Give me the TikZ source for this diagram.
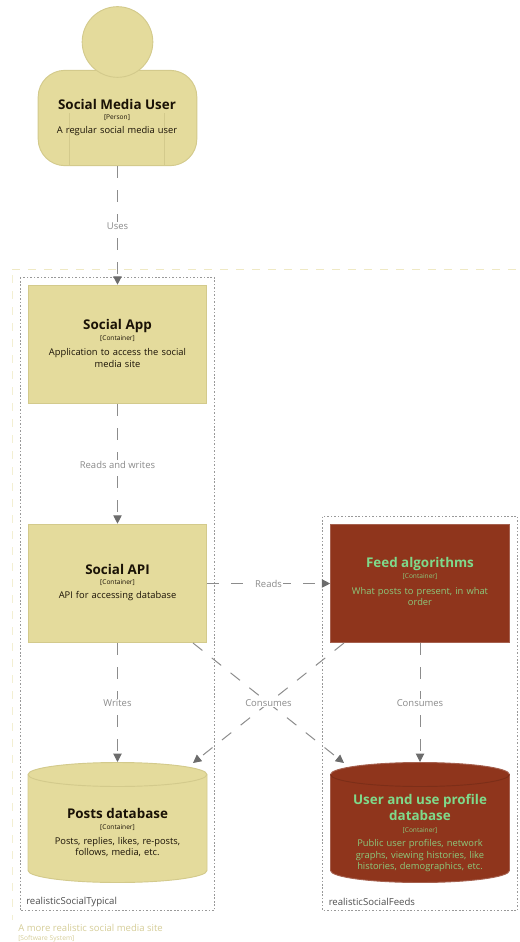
\documentclass[tikz,border=0pt]{standalone}
\usepackage{fontspec}
\setmainfont{Open Sans}
\usetikzlibrary{arrows.meta}
\definecolor{sand}{HTML}{E4DB9C}
\definecolor{sandline}{HTML}{D3CA8C}
\definecolor{rust}{HTML}{8F351C}
\definecolor{rustline}{HTML}{A5604E}
\definecolor{rustinner}{HTML}{7C2E18}
\definecolor{mint}{HTML}{7FD98A}
\definecolor{mintsoft}{HTML}{8CC97C}
\definecolor{inkdark}{HTML}{1A1206}
\definecolor{edgegray}{HTML}{6C6C6C}
\definecolor{edgeline}{HTML}{8C8C8C}
\definecolor{edgetext}{HTML}{8A8A8A}
\tikzset{
  x=0.75pt,y=-0.75pt,
  boxshape/.style={draw=sandline,fill=sand,line width=0.7pt,minimum width=134pt,minimum height=89pt,inner sep=0pt},
  rustbox/.style={draw=rustline,fill=rust,line width=0.7pt,minimum width=134pt,minimum height=89pt,inner sep=0pt},
  conn/.style={draw=edgeline,line width=0.75pt,dash pattern=on 9pt off 9pt,-{Triangle[length=6.2pt,width=6.2pt,color=edgegray,fill=edgegray]}},
  elabel/.style={fill=white,text=edgetext,font=\fontsize{7.1pt}{9pt}\selectfont,inner sep=0.5pt},
  grp/.style={draw=gray!80,line width=0.6pt,dash pattern=on 1.2pt off 1.4pt},
  grplabel/.style={anchor=west,text=black!70,font=\fontsize{7.2pt}{9pt}\selectfont,inner sep=0pt},
  ttl/.style={font=\fontsize{10.05pt}{12pt}\selectfont\bfseries,align=center,inner sep=0pt},
  tag/.style={font=\fontsize{4.95pt}{6pt}\selectfont,align=center,inner sep=0pt},
  dsc/.style={font=\fontsize{7pt}{8.6pt}\selectfont,align=center,inner sep=0pt,text width=118pt},
  sysdash/.style={line width=0.7pt,dash pattern=on 6pt off 6pt},
}
\newcommand{\cylshape}[5]{% x-left, y-top, fill, line, inner line
  \path[draw=#4,fill=#3,line width=0.7pt]
    (#1,#2+12) arc[start angle=180,end angle=360,x radius=89.5,y radius=12]
    -- ++(0,96) arc[start angle=0,end angle=180,x radius=89.5,y radius=12] -- cycle;
  \path[draw=#5,line width=0.7pt]
    (#1,#2+12) arc[start angle=180,end angle=0,x radius=89.5,y radius=12];
}
\begin{document}
\begin{tikzpicture}
\useasboundingbox (0,0) rectangle (519,942);
% system boundary
\draw[sand!60,sysdash] (12,269) -- (519,269);
\draw[sand!45,sysdash,line width=1.1pt] (12.5,275) -- (12.5,920);
\node[anchor=west,inner sep=0pt,text=sand!85!gray,font=\fontsize{7.15pt}{9pt}\selectfont] (syslabel) at (18,928) {A more realistic social media site};
\node[anchor=west,inner sep=0pt,text=sand!85!gray,font=\fontsize{5pt}{6pt}\selectfont] (systag) at (18,939) {[Software System]};
% groups
\draw[grp] (20,277.5) rectangle (214.5,910.5);
\draw[grp] (322.5,516.5) rectangle (517.5,910.5);
\node[grplabel] (g1) at (26,901.5) {realisticSocialTypical};
\node[grplabel] (g2) at (328.5,901.5) {realisticSocialFeeds};
% person
\node[draw=sandline,fill=sand,line width=0.7pt,rounded corners=20pt,minimum width=119pt,minimum height=71.5pt,inner sep=0pt] (user) at (117.5,118) {};
\node[draw=sandline,fill=sand,line width=0.7pt,circle,minimum size=53pt,inner sep=0pt] (head) at (117.5,42) {};
\draw[sandline,line width=0.7pt] (69.5,113) -- (69.5,166);
\draw[sandline,line width=0.7pt] (164.5,113) -- (164.5,166);
\node[ttl,text=inkdark] (t0) at (117,104) {Social Media User};
\node[tag,text=inkdark] (t0b) at (117,118) {[Person]};
\node[dsc,text=inkdark] (t0c) at (117,131.5) {A regular social media user};
% boxes
\node[boxshape] (app) at (117.5,344.5) {};
\node[ttl,text=inkdark] at (117.5,326) {Social App};
\node[tag,text=inkdark] at (117.5,339) {[Container]};
\node[dsc,text=inkdark] at (117.5,358) {Application to access the social\\media site};
\node[boxshape] (api) at (117.5,583.5) {};
\node[ttl,text=inkdark] at (117.5,569) {Social API};
\node[tag,text=inkdark] at (117.5,583) {[Container]};
\node[dsc,text=inkdark] at (117.5,596.5) {API for accessing database};
\node[rustbox] (feed) at (420,583.5) {};
\node[ttl,text=mint] at (420,564) {Feed algorithms};
\node[tag,text=mintsoft] at (420,577) {[Container]};
\node[dsc,text=mintsoft] at (420,596.5) {What posts to present, in what\\order};
% cylinders
\cylshape{28}{762.5}{sand}{sandline}{sandline}
\coordinate (posts) at (117.5,762);
\coordinate (postsd) at (193,763);
\node[ttl,text=inkdark] at (117.5,813.5) {Posts database};
\node[tag,text=inkdark] at (117.5,827.5) {[Container]};
\node[dsc,text=inkdark] at (117.5,847) {Posts, replies, likes, re-posts,\\follows, media, etc.};
\cylshape{330.5}{762.5}{rust}{rustline}{rustinner}
\coordinate (udb) at (420,762);
\coordinate (udbd) at (344,763);
\node[ttl,text=mint] at (420,807) {User and use profile\\database};
\node[tag,text=mintsoft] at (420,830.5) {[Container]};
\node[dsc,text=mintsoft] at (420,856) {Public user profiles, network\\graphs, viewing histories, like\\histories, demographics, etc.};
% connectors
\coordinate (apid) at (193,643);
\coordinate (feedd) at (344,643);
\draw[conn] (user.south -| 117.5,0) -- (app.north -| 117.5,0);
\draw[conn] (app.south) -- (api.north);
\draw[conn] (api.east) -- (feed.west);
\draw[conn] (api.south) -- (posts);
\draw[conn] (feed.south) -- (udb);
\draw[conn] (apid) -- (udbd);
\draw[conn] (feedd) -- (postsd);
\node[elabel] (l1) at (117.5,226) {Uses};
\node[elabel] (l2) at (117.5,464.5) {Reads and writes};
\node[elabel] (l3) at (268.5,583.5) {Reads};
\node[elabel] (l4) at (117.5,703) {Writes};
\node[elabel] (l5) at (268.5,703) {Consumes};
\node[elabel] (l6) at (420,703) {Consumes};
\end{tikzpicture}
\end{document}
